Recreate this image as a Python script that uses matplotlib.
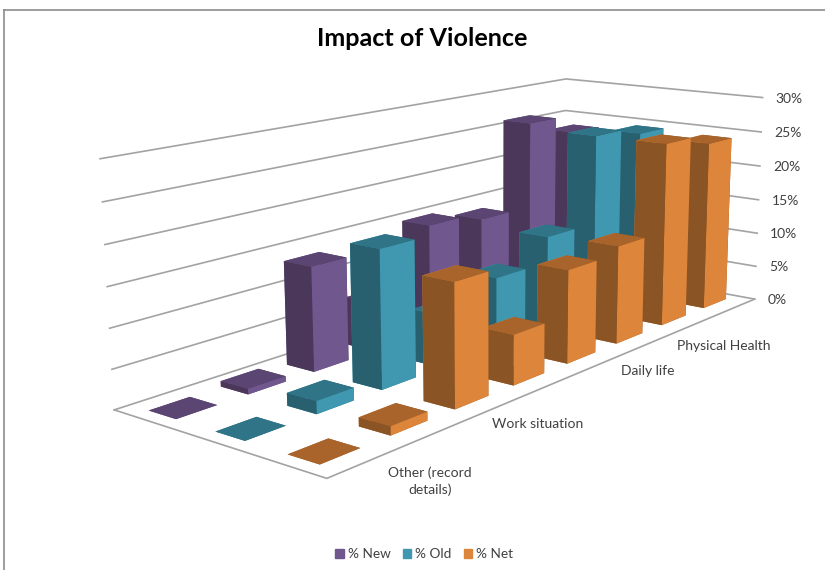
import matplotlib
matplotlib.use("Agg")
import matplotlib.pyplot as plt
from matplotlib.lines import Line2D
from matplotlib.patches import Patch
from mpl_toolkits.mplot3d import proj3d

plt.rcParams['font.family'] = ['Lato', 'DejaVu Sans']

# Percentages per category, front of the chart first
pct_new = [0, 0.7, 13.7, 6.6, 15, 13.9, 26.2, 23.4]
pct_old = [0, 1.6, 17.7, 6.9, 9.5, 13, 25.5, 24.4]
pct_net = [0, 1.1, 15.5, 6.5, 12.4, 13.4, 25.6, 24.1]

series_names = ['% New', '% Old', '% Net']
tick_values = [0, 5, 10, 15, 20, 25, 30]

# Face shades for each series: side, front, top
shades_new = ['#4A3759', '#70588F', '#5B4673']
shades_old = ['#286070', '#3F98B0', '#2F7587']
shades_net = ['#8B5425', '#DD853B', '#A9642B']

GRID = '#A3A3A3'
TEXT = '#404040'

W, H = 825, 570
fig = plt.figure(figsize=(W / 100, H / 100), dpi=100)

# 3D axes sized in pixels so the floor fills the chart area
side = 755.4
ax = fig.add_axes([82.7 / W, (H - 626.1) / H, side / W, side / H], projection='3d')
ax.computed_zorder = False
ax.set_xlim(0, 8, view_margin=0)
ax.set_ylim(0, 3, view_margin=0)
ax.set_zlim(0, 30, view_margin=0)
ax.view_init(elev=12.984, azim=-141.062, roll=0.155)
ax.set_proj_type('persp', focal_length=0.3852)
ax.set_box_aspect((3.0275, 1.1556, 1.0))
ax.set_axis_off()

# Walls and floor outline
for t in tick_values:
    ax.plot([0, 8, 8], [3, 3, 0], [t, t, t], color=GRID, lw=1.2, zorder=1)
ax.plot([0, 0, 8], [3, 0, 0], [0, 0, 0], color=GRID, lw=1.2, zorder=1)


def draw_bar(i, row, value, shades, order):
    """One bar in cell (i, row); back cells are painted first."""
    # bar3d face order is -z, +z, -y, +y, -x, +x
    colors = [shades[2], shades[2], shades[1], shades[1], shades[0], shades[0]]
    ax.bar3d(i + 0.21, row + 0.29, 0, 0.56, 0.42, value, color=colors,
             shade=False, linewidth=0, zorder=order)


rows = [(2, pct_new, shades_new), (1, pct_old, shades_old), (0, pct_net, shades_net)]
order = 10
for row, values, shades in rows:
    for i in range(len(values) - 1, -1, -1):
        draw_bar(i, row, values[i], shades, order)
        order += 1

# Value labels next to the right end of each wall line
M = ax.get_proj()
for t in tick_values:
    xp, yp, _ = proj3d.proj_transform(8, 0, t, M)
    ax.annotate(f'{t}%', xy=(xp, yp), xytext=(13, -1), textcoords='offset pixels',
                ha='left', va='center', fontsize=10, color=TEXT, zorder=500)

# Category labels along the front right edge
fig.text(430 / W, 1 - 481.5 / H, 'Other (record\ndetails)', ha='center', va='center',
         fontsize=10, color=TEXT, linespacing=1.4)
fig.text(538 / W, 1 - 424 / H, 'Work situation', ha='center', va='center', fontsize=10, color=TEXT)
fig.text(648 / W, 1 - 371 / H, 'Daily life', ha='center', va='center', fontsize=10, color=TEXT)
fig.text(724 / W, 1 - 346 / H, 'Physical Health', ha='center', va='center', fontsize=10, color=TEXT)

fig.text(422 / W, 1 - 39 / H, 'Impact of Violence', ha='center', va='center',
         fontsize=18.1, fontweight='bold', color='black')

handles = [Patch(color=shades[1]) for shades in (shades_new, shades_old, shades_net)]
fig.legend(handles, series_names, loc='center', bbox_to_anchor=(424 / W, 1 - 554 / H), ncol=3,
           frameon=False, fontsize=9.8, labelcolor=TEXT, handlelength=0.65, handleheight=0.65,
           handletextpad=0.25, columnspacing=0.9)

# Chart frame: only the top and left edges fall inside the image
frame = dict(color='#8C8C8C', lw=1.2, transform=fig.transFigure)
fig.add_artist(Line2D([4 / W, 1], [1 - 10 / H, 1 - 10 / H], **frame))
fig.add_artist(Line2D([4 / W, 4 / W], [0, 1 - 10 / H], **frame))

fig.savefig('out.png', dpi=100)
